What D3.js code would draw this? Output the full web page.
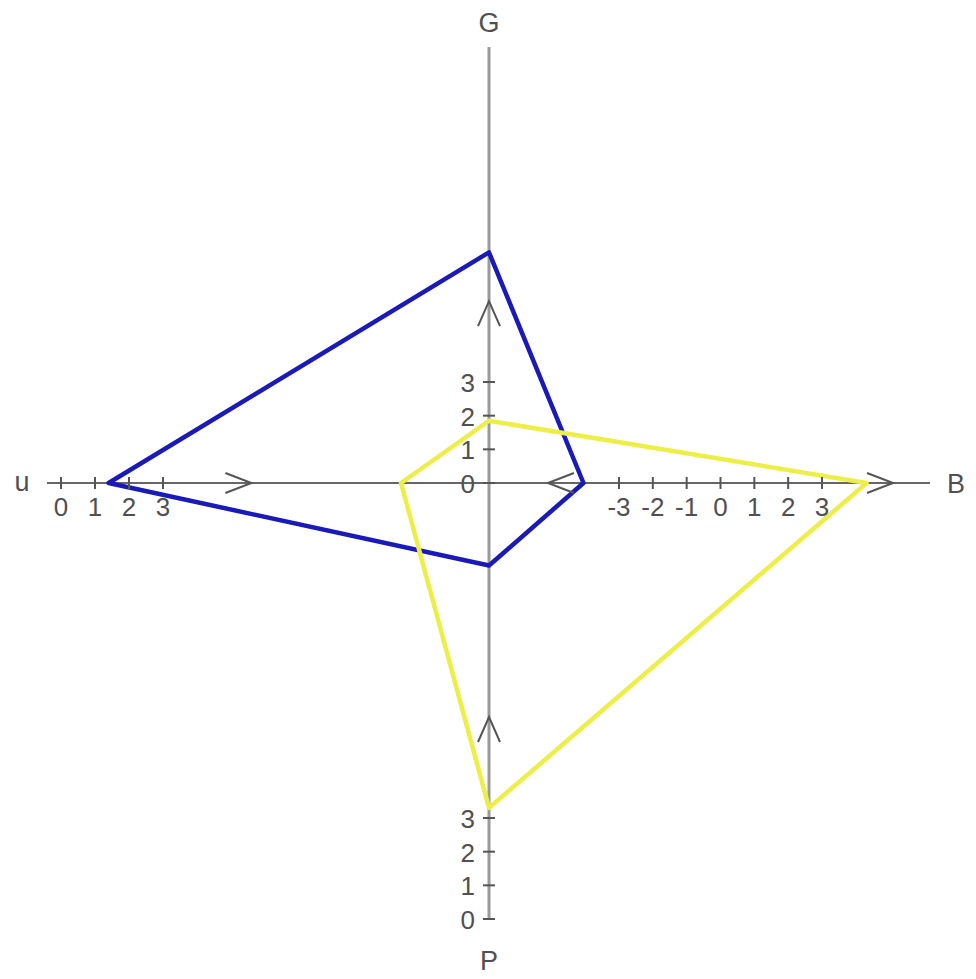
<!DOCTYPE html>
<html>
<head>
<meta charset="utf-8">
<script src="https://cdn.jsdelivr.net/npm/d3@7"></script>
<style>
  html, body { margin: 0; padding: 0; background: #fff; }
  svg { display: block; }
  text { font-family: "Liberation Sans", Arial, sans-serif; fill: #505050; }
</style>
</head>
<body>
<svg id="chart" width="976" height="979"></svg>
<script>
// ---- data ----
const axisNames = ["G", "B", "P", "u"];
const uTicks = [0, 1, 2, 3];
const bTicks = [-3, -2, -1, 0, 1, 2, 3];
const gTicks = [0, 1, 2, 3];
const pTicks = [0, 1, 2, 3];
const seriesNames = ["blue", "yellow"];
const gValues = [6.85, 1.85];
const bValues = [-4.05, 4.32];
const pValues = [10.5, 3.3];
const uValues = [1.4, 10.0];
// arrow positions along each axis (in axis units)
const uArrows = [5.6];
const bArrows = [-5.1, 5.1];
const gArrows = [5.4];
const pArrows = [6.0];

// ---- layout ----
const cx = 489, cy = 483;
const svg = d3.select("#chart");

const uScale = d3.scaleLinear().domain([0, 3]).range([61, 163]);
const bScale = d3.scaleLinear().domain([-3, 3]).range([619, 822]);
const gScale = d3.scaleLinear().domain([0, 3]).range([483, 382]);
const pScale = d3.scaleLinear().domain([0, 3]).range([919, 818]);

const seriesColor = d3.scaleOrdinal().domain(seriesNames).range(["#1a1ab8", "#eeee48"]);

// axes lines
svg.append("line").attr("x1", 47).attr("x2", 930).attr("y1", cy).attr("y2", cy)
  .attr("stroke", "#666").attr("stroke-width", 2);
svg.append("line").attr("x1", cx).attr("x2", cx).attr("y1", 47).attr("y2", pScale(0))
  .attr("stroke", "#9a9a9a").attr("stroke-width", 3);

// polygons
const pts = seriesNames.map((s, i) => [
  [cx, gScale(gValues[i])],
  [bScale(bValues[i]), cy],
  [cx, pScale(pValues[i])],
  [uScale(uValues[i]), cy]
]);
const line = d3.line().curve(d3.curveLinearClosed);
svg.append("g").selectAll("path").data(seriesNames).join("path")
  .attr("d", (s, i) => line(pts[i]))
  .attr("fill", "none")
  .attr("stroke", s => seriesColor(s))
  .attr("stroke-width", 4.5)
  .attr("stroke-linejoin", "round");

// ticks
const tickG = svg.append("g").attr("stroke", "#555").attr("stroke-width", 2);
const fs = 26;
function hTicks(scale, ticks) {
  ticks.forEach(t => {
    tickG.append("line").attr("x1", scale(t)).attr("x2", scale(t)).attr("y1", cy - 6).attr("y2", cy + 6);
    svg.append("text").attr("x", scale(t)).attr("y", cy + 33).attr("text-anchor", "middle")
      .attr("font-size", fs).text(t);
  });
}
function vTicks(scale, ticks) {
  ticks.forEach(t => {
    tickG.append("line").attr("y1", scale(t)).attr("y2", scale(t)).attr("x1", cx - 6).attr("x2", cx + 6);
    svg.append("text").attr("x", cx - 14).attr("y", scale(t) + 10).attr("text-anchor", "end")
      .attr("font-size", fs).text(t);
  });
}
hTicks(uScale, uTicks);
hTicks(bScale, bTicks);
vTicks(gScale, gTicks);
vTicks(pScale, pTicks);

// arrows
const arrowG = svg.append("g").attr("fill", "none").attr("stroke", "#555").attr("stroke-width", 2);
function arrowH(x, dir) { // dir +1 points right, -1 left
  arrowG.append("path").attr("d", `M${x - dir * 26},${cy - 10} L${x},${cy} L${x - dir * 26},${cy + 10}`);
}
function arrowV(y) { // points up
  arrowG.append("path").attr("d", `M${cx - 11},${y + 25} L${cx},${y} L${cx + 11},${y + 25}`);
}
uArrows.forEach(v => arrowH(uScale(v), 1));
bArrows.forEach(v => arrowH(bScale(v), v < 0 ? -1 : 1));
gArrows.forEach(v => arrowV(gScale(v)));
pArrows.forEach(v => arrowV(pScale(v)));

// axis names
const nameFs = 27;
svg.append("text").attr("x", cx).attr("y", 32).attr("text-anchor", "middle").attr("font-size", nameFs).text(axisNames[0]);
svg.append("text").attr("x", 956).attr("y", cy + 10).attr("text-anchor", "middle").attr("font-size", nameFs).text(axisNames[1]);
svg.append("text").attr("x", cx).attr("y", 970).attr("text-anchor", "middle").attr("font-size", nameFs).text(axisNames[2]);
svg.append("text").attr("x", 22).attr("y", cy + 8).attr("text-anchor", "middle").attr("font-size", nameFs).text(axisNames[3]);
</script>
</body>
</html>
